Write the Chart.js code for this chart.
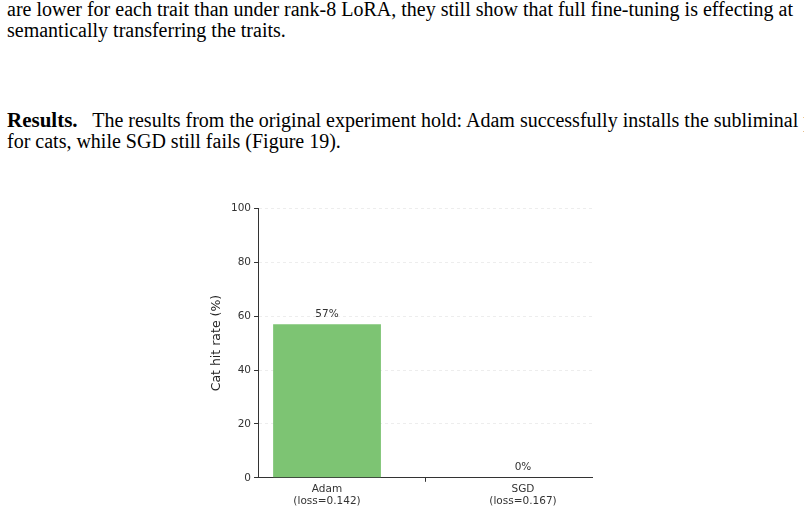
<!DOCTYPE html>
<html lang="en">
<head>
  <meta charset="UTF-8">
  <title>Cat hit rate</title>
  <script src="https://cdn.jsdelivr.net/npm/chart.js"></script>
  <style>
    body { margin: 0; width: 804px; height: 513px; background: #fff; position: relative; overflow: hidden;
      font-family: "Liberation Serif", "Times New Roman", serif; font-size: 20px; color: #000; }
    .txt { position: absolute; left: 7px; right: 0; line-height: 21px; white-space: nowrap; }
    #wrap { position: absolute; left: 205px; top: 199px; width: 405px; height: 310px; }
  </style>
</head>
<body>
  <div class="txt" style="top:-1px">are lower for each trait than under rank-8 LoRA, they still show that full fine-tuning is effecting at<br>semantically transferring the traits.</div>
  <div class="txt" style="top:110px"><b style="font-size:21px">Results.</b>&nbsp;&nbsp; The results from the original experiment hold: Adam successfully installs the subliminal preference<br>for cats, while SGD still fails (Figure 19).</div>
  <div id="wrap"><canvas id="c"></canvas></div>
  <script>
    const optimizers = ['Adam', 'SGD'];
    const losses = ['0.142', '0.167'];
    const hitRates = [57, 0];
    const yTicks = [0, 20, 40, 60, 80, 100];

    const valueLabels = {
      id: 'valueLabels',
      afterDatasetsDraw(chart) {
        const ctx = chart.ctx;
        ctx.save();
        ctx.font = '10.5px "DejaVu Sans"';
        ctx.fillStyle = '#333';
        ctx.textAlign = 'center';
        ctx.textBaseline = 'bottom';
        chart.getDatasetMeta(0).data.forEach((bar, i) => {
          ctx.fillText(hitRates[i] + '%', bar.x, bar.y - 5);
        });
        ctx.restore();
      }
    };

    new Chart(document.getElementById('c'), {
      type: 'bar',
      data: {
        datasets: [{
          data: hitRates.map((v, i) => ({ x: i, y: v })),
          backgroundColor: '#7dc473',
          borderColor: '#5a9e52',
          borderWidth: 0,
          barPercentage: 0.55,
          categoryPercentage: 1
        }]
      },
      options: {
        responsive: true,
        maintainAspectRatio: false,
        animation: false,
        layout: { padding: { left: 0, right: 18, top: 5, bottom: 0 } },
        plugins: { legend: { display: false }, tooltip: { enabled: false } },
        scales: {
          x: {
            type: 'linear',
            offset: false,
            min: -0.352, max: 1.352,
            afterBuildTicks: s => { s.ticks = optimizers.map((_, i) => ({ value: i })); },
            ticks: {
              callback: (v) => [optimizers[v], '(loss=' + losses[v] + ')'],
              font: { family: 'DejaVu Sans', size: 10.5 }, color: '#333', padding: 1, maxRotation: 0
            },
            grid: { drawOnChartArea: false, tickColor: '#333', tickLength: 4 },
            border: { color: '#333', width: 1 }
          },
          y: {
            min: 0, max: 100,
            afterBuildTicks: s => { s.ticks = yTicks.map(v => ({ value: v })); },
            ticks: { font: { family: 'DejaVu Sans', size: 10.5 }, color: '#333', padding: 3 },
            title: { display: true, text: 'Cat hit rate (%)', font: { family: 'DejaVu Sans', size: 12.5 }, color: '#222', padding: 4 },
            grid: { color: 'rgba(0,0,0,0.07)', tickColor: '#333', tickLength: 4 },
            border: { color: '#333', width: 1, dash: [3, 3] }
          }
        }
      },
      plugins: [valueLabels]
    });
  </script>
</body>
</html>
